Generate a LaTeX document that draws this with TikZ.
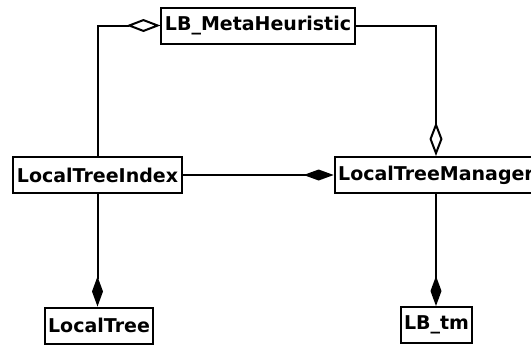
\documentclass[tikz,border=0pt]{standalone}
\usepackage{fontspec}
\setmainfont{DejaVu Sans}
\usepackage{tikz}
\usetikzlibrary{arrows.meta}
\usetikzlibrary{positioning}

\tikzset{
	cls/.style={draw, line width=1pt, font=\fontsize{9.5}{11}\selectfont\bfseries,
		inner xsep=1.75pt, inner ysep=0pt, minimum height=18pt},
	aggr/.style={line width=1pt},
	holds/.tip={Diamond[open, length=17pt, width=6.5pt, fill=white]},
	owns/.tip={Diamond[length=15pt, width=5.5pt]}
}

\begin{document}
\begin{tikzpicture}[x=0.5pt, y=-0.5pt]

	\useasboundingbox (0,0) rectangle (531,345);

	% classes
	\node[cls] (meta) at (258,25.5) {LB\_MetaHeuristic};
	\node[cls] (idx) at (97.5,175) {LocalTreeIndex};
	\node[cls] (mgr) at (436,175) {LocalTreeManager};
	\node[cls] (tree) at (99,325.5) {LocalTree};
	\node[cls] (tm) at (436.5,325) {LB\_tm};

	% aggregations
	\draw[aggr, holds-] (meta.west) -| (idx.north);
	\draw[aggr, -holds] (meta.east) -| (mgr.north);

	% compositions
	\draw[aggr, -owns] (idx.east) -- (mgr.west);
	\draw[aggr, -owns] (idx.south) -- (idx.south |- tree.north);
	\draw[aggr, -owns] (mgr.south) -- (mgr.south |- tm.north);

\end{tikzpicture}
\end{document}
